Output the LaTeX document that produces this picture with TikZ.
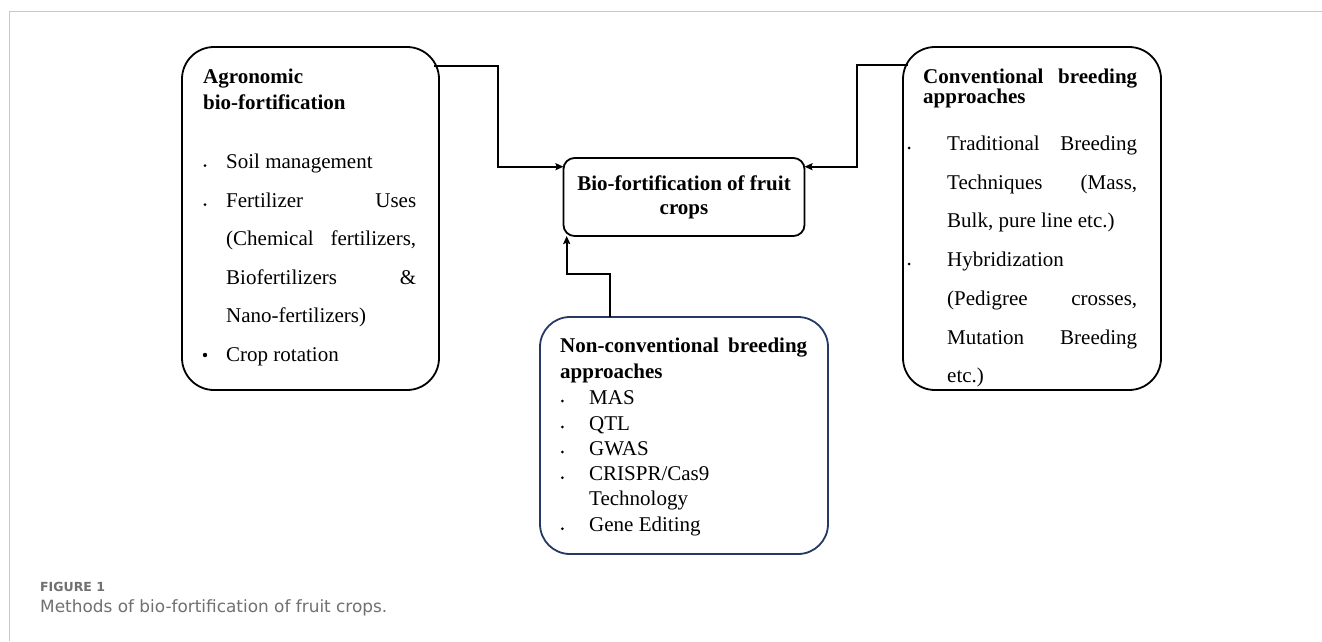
\documentclass[tikz,border=0pt]{standalone}
\usepackage{fontspec}
\setmainfont{Liberation Serif}
\newfontfamily\capfont{DejaVu Sans}
\usetikzlibrary{arrows.meta}
\definecolor{navyb}{RGB}{36,58,100}
\definecolor{capgray}{RGB}{112,112,112}
\definecolor{framegray}{RGB}{200,200,200}
\newcommand\jus[2]{\makebox[#1][s]{#2}}
\begin{document}
\begin{tikzpicture}[x=1pt,y=-1pt,
  bigbox/.style={draw, line width=1.8pt, rounded corners=32pt, inner sep=0pt, outer sep=0pt},
  conn/.style={line width=1.6pt, -{Stealth[length=8pt,width=7pt,inset=1.2pt]}},
  t/.style={anchor=base west, inner sep=0pt, font=\fontsize{21}{25}\selectfont},
  tb/.style={anchor=base west, inner sep=0pt, font=\fontsize{21}{25}\selectfont\bfseries},
  bul/.style={radius=1.5pt}]
\useasboundingbox (0,0) rectangle (1322,641);
\fill[white] (0,0) rectangle (1322,641);
% frame
\draw[framegray, line width=1.2pt] (9.5,641) -- (9.5,11.5) -- (1322,11.5);

% boxes
\node[bigbox, minimum width=257pt, minimum height=343pt] (agro) at (310.5,218.5) {};
\node[bigbox, minimum width=258pt, minimum height=343pt] (conv) at (1032,218.5) {};
\node[bigbox, draw=navyb, rounded corners=30pt, minimum width=288pt, minimum height=237pt] (nonconv) at (684,435.5) {};
\node[draw, line width=1.8pt, rounded corners=11pt, inner sep=0pt, outer sep=0pt, minimum width=241pt, minimum height=78pt,
      align=center, font=\fontsize{21}{24}\selectfont\bfseries] (central) at (684,197)
      {Bio-fortification of fruit\\[0pt]crops};

% agronomic text
\node[tb] (a1) at (203,83) {Agronomic};
\node[tb] (a2) at (203,109) {bio-fortification};
\fill (205,165.5) circle[bul];
\node[t] (a3) at (226,168) {Soil management};
\fill (205,204.5) circle[bul];
\node[t] (a4) at (226,207) {\jus{190pt}{Fertilizer Uses}};
\node[t] (a5) at (226,245.5) {\jus{190pt}{(Chemical fertilizers,}};
\node[t] (a6) at (226,284) {\jus{190pt}{Biofertilizers \&}};
\node[t] (a7) at (226,322.5) {Nano-fertilizers)};
\fill (205,355) circle[radius=2.2pt];
\node[t] (a8) at (226,361) {Crop rotation};

% conventional text
\node[tb] (c1) at (923,83) {\jus{214pt}{Conventional breeding}};
\node[tb] (c2) at (923,103.5) {approaches};
\fill (909,148) circle[bul];
\node[t] (c3) at (947,150.5) {\jus{190pt}{Traditional Breeding}};
\node[t] (c4) at (947,189.2) {\jus{190pt}{Techniques (Mass,}};
\node[t] (c5) at (947,227.9) {Bulk, pure line etc.)};
\fill (909,264) circle[bul];
\node[t] (c6) at (947,266.6) {Hybridization};
\node[t] (c7) at (947,305.3) {\jus{190pt}{(Pedigree crosses,}};
\node[t] (c8) at (947,344) {\jus{190pt}{Mutation Breeding}};
\node[t] (c9) at (947,382.7) {etc.)};

% non-conventional text
\node[tb] (n1) at (560,352.3) {\jus{247pt}{Non-conventional breeding}};
\node[tb] (n2) at (560,378.7) {approaches};
\fill (562.3,401) circle[bul];
\node[t] (n3) at (589,404) {MAS};
\fill (562.3,427) circle[bul];
\node[t] (n4) at (589,430) {QTL};
\fill (562.3,452) circle[bul];
\node[t] (n5) at (589,455) {GWAS};
\fill (562.3,477.7) circle[bul];
\node[t] (n6) at (589,480.7) {CRISPR/Cas9};
\node[t] (n7) at (589,505.7) {Technology};
\fill (562.3,528.7) circle[bul];
\node[t] (n8) at (589,531.7) {Gene Editing};

% connectors
\coordinate (a0) at ([shift={(-5,18.7)}]agro.north east);
\coordinate (k1) at (497.7,65.7);
\coordinate (cin1) at ([yshift=30.3pt]central.west);
\draw[conn] (a0) -- (k1) |- (cin1);

\coordinate (c0) at ([shift={(5,18)}]conv.north west);
\coordinate (k2) at (856.7,65);
\coordinate (cin2) at ([yshift=30.3pt]central.east);
\draw[conn] (c0) -- (k2) |- (cin2);

\coordinate (n0) at ([xshift=-74pt]nonconv.north);
\coordinate (k3) at (566.7,274);
\coordinate (cin3) at (k3 |- central.south);
\draw[conn] (n0) |- (k3) -- (cin3);

% caption
\node[anchor=base west, inner sep=0pt, text=capgray, font=\capfont\bfseries\fontsize{12.5}{15}\selectfont] (fig) at (40,591) {FIGURE 1};
\node[anchor=base west, inner sep=0pt, text=capgray, font=\capfont\fontsize{16.9}{20}\selectfont] (cap) at (40,612.7) {Methods of bio-fortification of fruit crops.};
\end{tikzpicture}
\end{document}
